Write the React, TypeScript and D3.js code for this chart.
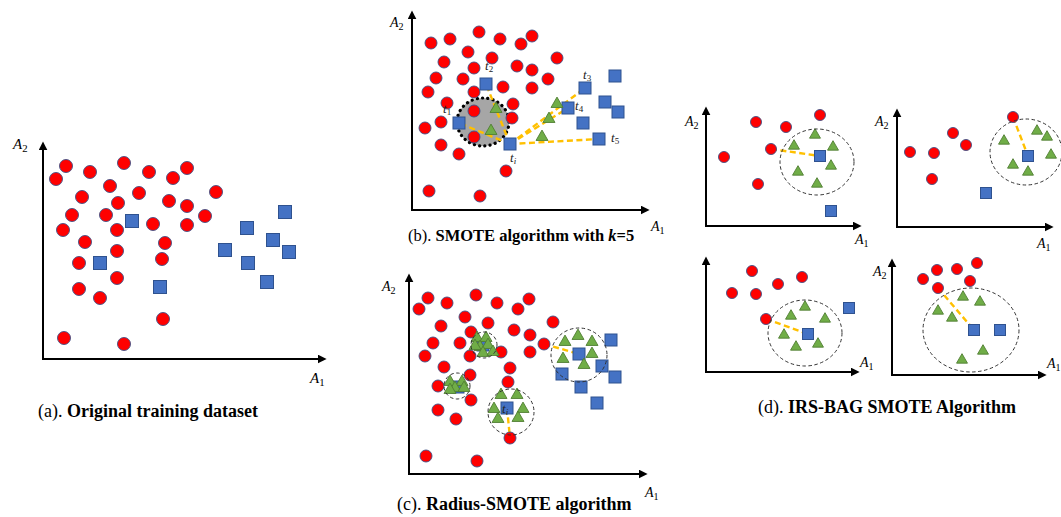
import * as React from 'react';
import * as d3 from 'd3';

type P = [number, number];
type Ring = { c: P; rx: number; ry: number };
type Tag = { at: P; sub: string };

// (a) original training dataset — values are (A1, A2) measured from the origin
const aMajority: P[] = [
  [23, 193], [81, 196], [13, 180], [47, 187], [106, 187], [130, 181], [144, 191],
  [67, 173], [39, 162], [96, 166], [173, 167], [75, 156], [126, 158], [144, 153],
  [29, 144], [63, 144], [162, 143], [20, 129], [74, 129], [110, 135], [144, 134],
  [42, 117], [122, 116], [74, 108], [36, 96], [119, 100], [74, 81], [36, 70],
  [57, 61], [120, 40], [21, 21], [81, 15],
];
const aMinority: P[] = [
  [89, 138], [57, 96], [117, 72], [204, 131], [242, 147], [182, 109], [230, 119],
  [246, 107], [205, 96], [224, 77],
];

// (b) SMOTE with k=5
const bMajority: P[] = [
  [19, 167], [38, 171], [67, 178], [88, 171], [109, 166], [120, 174], [56, 158],
  [32, 148], [80, 152], [62, 142], [105, 144], [120, 140], [145, 152], [24, 132],
  [51, 131], [136, 131], [16, 118], [62, 118], [91, 123], [120, 122], [35, 107],
  [101, 106], [62, 99], [100, 92], [29, 88], [13, 82], [62, 73], [29, 65],
  [47, 56], [94, 39], [17, 19], [68, 14],
];
const bMinority: P[] = [
  [74, 126], [47, 87], [98, 66], [173, 122], [156, 102], [171, 87], [187, 71],
  [203, 134], [193, 108], [206, 98],
];
const bSynthetic: P[] = [[84, 101], [79, 79], [145, 106], [137, 91], [130, 73]];
const bNeighbours = [0, 1, 3, 4, 6];
const bShade: Ring = { c: [71, 88], rx: 26, ry: 24 };
const bTags: Tag[] = [
  { at: [73, 140], sub: '2' }, { at: [31, 97], sub: '1' }, { at: [98, 48], sub: 'i' },
  { at: [171, 131], sub: '3' }, { at: [163, 100], sub: '4' }, { at: [199, 68], sub: '5' },
];

// (c) Radius-SMOTE
const cMajority: P[] = [
  [10, 165], [19, 176], [38, 171], [67, 179], [88, 171], [109, 165], [120, 175],
  [56, 157], [32, 148], [79, 151], [62, 142], [105, 144], [121, 139], [144, 152],
  [24, 131], [51, 131], [135, 130], [16, 118], [61, 118], [92, 122], [121, 122],
  [35, 107], [101, 106], [61, 99], [99, 92], [29, 88], [62, 74], [29, 64],
  [47, 55], [101, 36], [17, 18], [68, 13],
];
const cMinority: P[] = [
  [202, 134], [170, 120], [193, 108], [206, 97], [153, 100], [172, 87], [188, 71],
  [98, 66], [74, 129], [49, 87],
];
const cSynthetic: P[] = [
  [68, 136], [77, 136], [71, 127], [79, 129], [74, 121], [84, 122], [66, 128],
  [41, 92], [53, 92], [46, 86], [55, 86], [41, 84],
  [92, 79], [108, 79], [85, 65], [114, 65], [89, 55], [109, 56],
  [156, 132], [169, 138], [183, 132], [154, 115], [183, 120], [175, 109],
];
const cRings: Ring[] = [
  { c: [75, 129], rx: 13, ry: 13 }, { c: [48, 88], rx: 13, ry: 13 },
  { c: [102, 62], rx: 23, ry: 23 }, { c: [170, 119], rx: 28, ry: 27 },
];
const cLinks: [P, P][] = [[cMinority[7], cMajority[29]], [cMajority[16], cMinority[1]]];
const cTags: Tag[] = [{ at: [93, 61], sub: 'i' }];

// (d) IRS-BAG SMOTE, four bags
const d1Majority: P[] = [[18, 69], [50, 104], [80, 99], [114, 111], [65, 77], [52, 42]];
const d1Minority: P[] = [[114, 70], [125, 15]];
const d1Synthetic: P[] = [[88, 80], [109, 91], [127, 79], [125, 60], [92, 54], [111, 42]];
const d1Ring: Ring = { c: [111, 64], rx: 37, ry: 33 };

const d2Majority: P[] = [[13, 75], [37, 74], [56, 94], [69, 82], [35, 48], [116, 110]];
const d2Minority: P[] = [[131, 71], [89, 34]];
const d2Synthetic: P[] = [[107, 86], [140, 96], [150, 90], [154, 72], [116, 62], [131, 55]];
const d2Ring: Ring = { c: [129, 75], rx: 36, ry: 33 };

const d3Majority: P[] = [[46, 101], [26, 79], [50, 78], [72, 88], [96, 95], [60, 53]];
const d3Minority: P[] = [[102, 38], [143, 64]];
const d3Synthetic: P[] = [[99, 65], [85, 56], [119, 53], [78, 37], [90, 25], [112, 28]];
const d3Ring: Ring = { c: [99, 39], rx: 37, ry: 33 };

const d4Majority: P[] = [[31, 96], [45, 105], [65, 106], [85, 112], [78, 94], [46, 87]];
const d4Minority: P[] = [[82, 45], [108, 45]];
const d4Synthetic: P[] = [[46, 64], [71, 78], [88, 73], [60, 57], [91, 24], [70, 15]];
const d4Ring: Ring = { c: [79, 45], rx: 48, ry: 42 };

const RED = '#ff0000';
const BLUE = '#4472c4';
const GREEN = '#70ad47';
const GOLD = '#ffc000';
const SERIF = '"Liberation Serif", "Times New Roman", serif';

const AxisLabel = ({ x, y, sub, size = 13 }) => (
  <text x={x} y={y} fontFamily={SERIF} fontSize={size} fill="#000">
    <tspan fontStyle="italic">A</tspan>
    <tspan dy={3} fontSize={size * 0.72}>{sub}</tspan>
  </text>
);

const Panel = ({
  frame, majority, minority, synthetic = [], links = [], rings = [], shade = null,
  tags = [], r = 6, sq = 12, tri = 62, a2 = null, a1, labelSize = 14,
}) => {
  const x = d3.scaleLinear().domain([0, frame.w]).range([frame.x, frame.x + frame.w]);
  const y = d3.scaleLinear().domain([0, frame.h]).range([frame.y, frame.y - frame.h]);
  const triangle = d3.symbol().type(d3.symbolTriangle).size(tri)();
  const sx = (v: number) => x(v) - x(0);
  return (
    <g>
      <line x1={frame.x} y1={frame.y} x2={frame.x} y2={frame.y - frame.h + 2}
        stroke="#000" strokeWidth={2} markerEnd="url(#arr)" />
      <line x1={frame.x - 1} y1={frame.y} x2={frame.x + frame.w - 2} y2={frame.y}
        stroke="#000" strokeWidth={2} markerEnd="url(#arr)" />
      {a2 && <AxisLabel x={frame.x + a2[0]} y={frame.y - frame.h + a2[1]} sub="2" size={labelSize} />}
      <AxisLabel x={frame.x + frame.w + a1[0]} y={frame.y + a1[1]} sub="1" size={labelSize} />
      {shade && (
        <ellipse cx={x(shade.c[0])} cy={y(shade.c[1])} rx={sx(shade.rx)} ry={sx(shade.ry)}
          fill="#a6a6a6" stroke="#000" strokeWidth={3.2} strokeDasharray="0.1 5.2"
          strokeLinecap="round" />
      )}
      {links.map(([p, q], i) => (
        <line key={i} x1={x(p[0])} y1={y(p[1])} x2={x(q[0])} y2={y(q[1])}
          stroke={GOLD} strokeWidth={2.4} strokeDasharray="6 3.5" />
      ))}
      {majority.map((d, i) => (
        <circle key={i} cx={x(d[0])} cy={y(d[1])} r={r} fill={RED}
          stroke="#3d4f85" strokeWidth={0.9} />
      ))}
      {minority.map((d, i) => (
        <rect key={i} x={x(d[0]) - sq / 2} y={y(d[1]) - sq / 2} width={sq} height={sq}
          fill={BLUE} stroke="#2f528f" strokeWidth={1} />
      ))}
      {synthetic.map((d, i) => (
        <path key={i} d={triangle} transform={`translate(${x(d[0])},${y(d[1])})`}
          fill={GREEN} stroke="#507e32" strokeWidth={0.9} />
      ))}
      {rings.map((g, i) => (
        <ellipse key={i} cx={x(g.c[0])} cy={y(g.c[1])} rx={sx(g.rx)} ry={sx(g.ry)}
          fill="none" stroke="#333" strokeWidth={1} strokeDasharray="3.5 2.5" />
      ))}
      {tags.map((t, i) => (
        <text key={i} x={x(t.at[0])} y={y(t.at[1])} fontFamily={SERIF} fontSize={13}
          fill="#222">
          <tspan fontStyle="italic">t</tspan>
          <tspan dy={2} fontSize={9} fontStyle={t.sub === 'i' ? 'italic' : 'normal'}>{t.sub}</tspan>
        </text>
      ))}
    </g>
  );
};

const Caption = ({ x, y, tag, children }) => (
  <text x={x} y={y} fontFamily={SERIF} fontSize={18} fill="#000">
    <tspan>{tag} </tspan>
    <tspan fontWeight="bold">{children}</tspan>
  </text>
);

export default function App() {
  const bLinks: [P, P][] = bNeighbours.map((j) => [bMinority[2], bMinority[j]]);
  return (
    <svg width={1061} height={517} style={{ position: 'absolute', left: 0, top: 0, background: '#fff' }}>
      <defs>
        <marker id="arr" viewBox="0 0 10 10" refX={6} refY={5} markerWidth={9} markerHeight={9}
          markerUnits="userSpaceOnUse" orient="auto">
          <path d="M0,0 L10,5 L0,10 z" fill="#000" />
        </marker>
      </defs>

      <Panel frame={{ x: 43, y: 359, w: 282, h: 216 }} majority={aMajority} minority={aMinority}
        r={6.5} sq={13} a2={[-30, 6]} a1={[-15, 24]} labelSize={15} />
      <Caption x={38} y={417} tag="(a).">Original training dataset</Caption>

      <Panel frame={{ x: 412, y: 210, w: 236, h: 198 }} majority={bMajority} minority={bMinority}
        synthetic={bSynthetic} links={bLinks} shade={bShade} tags={bTags}
        a2={[-22, 15]} a1={[3, 21]} />
      <text x={408} y={241} fontFamily={SERIF} fontSize={16.5} fill="#000">
        <tspan>(b). </tspan>
        <tspan fontWeight="bold">SMOTE algorithm with </tspan>
        <tspan fontWeight="bold" fontStyle="italic">k</tspan>
        <tspan fontWeight="bold">=5</tspan>
      </text>

      <Panel frame={{ x: 409, y: 474, w: 237, h: 199 }} majority={cMajority} minority={cMinority}
        synthetic={cSynthetic} links={cLinks} rings={cRings} tags={cTags}
        a2={[-27, 16]} a1={[-1, 23]} />
      <Caption x={397} y={510} tag="(c).">Radius-SMOTE algorithm</Caption>

      <Panel frame={{ x: 706, y: 226, w: 154, h: 118 }} majority={d1Majority} minority={d1Minority}
        synthetic={d1Synthetic} links={[[d1Majority[4], d1Minority[0]]]} rings={[d1Ring]}
        r={5.5} sq={11} tri={52} a2={[-21, 18]} a1={[-5, 18]} />
      <Panel frame={{ x: 897, y: 227, w: 155, h: 117 }} majority={d2Majority} minority={d2Minority}
        synthetic={d2Synthetic} links={[[d2Majority[5], d2Minority[0]]]} rings={[d2Ring]}
        r={5.5} sq={11} tri={52} a2={[-22, 16]} a1={[-15, 21]} />
      <Panel frame={{ x: 706, y: 372, w: 152, h: 114 }} majority={d3Majority} minority={d3Minority}
        synthetic={d3Synthetic} links={[[d3Majority[5], d3Minority[0]]]} rings={[d3Ring]}
        r={5.5} sq={11} tri={52} a1={[2, -5]} />
      <Panel frame={{ x: 892, y: 375, w: 153, h: 115 }} majority={d4Majority} minority={d4Minority}
        synthetic={d4Synthetic} links={[[d4Majority[5], d4Minority[0]]]} rings={[d4Ring]}
        r={5.5} sq={11} tri={52} a2={[-19, 16]} a1={[2, -7]} />
      <Caption x={758} y={413} tag="(d).">IRS-BAG SMOTE Algorithm</Caption>
    </svg>
  );
}
